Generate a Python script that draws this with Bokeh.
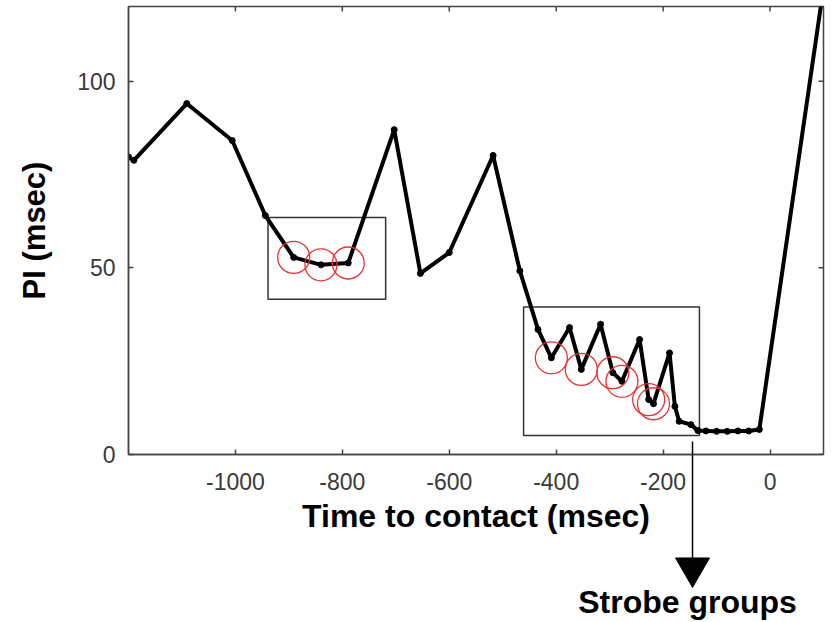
import math
from bokeh.plotting import figure
from bokeh.layouts import column
from bokeh.models import Range1d, FixedTicker
from bokeh.core.properties import value
from bokeh.embed import file_html
from bokeh.resources import INLINE

# ---- data ----
time_ms = [-1200, -1190, -1091, -1006, -944, -891, -840, -789, -703, -654, -600,
           -518, -468, -434, -409, -375, -353, -317, -294, -277, -244, -227, -218,
           -188, -178, -170, -148, -135, -120, -100, -80, -60, -40, -20, 100]
pi_ms = [79.7, 78.8, 94.0, 84.1, 64.0, 52.8, 50.8, 51.3, 87.0, 48.5, 54.1,
         80.1, 49.2, 33.5, 25.9, 34.0, 22.8, 34.9, 21.9, 19.6, 30.8, 14.7, 13.6,
         27.2, 12.9, 8.9, 8.0, 6.4, 6.3, 6.2, 6.2, 6.3, 6.3, 6.7, 125.0]

# strobe-group markers (red circles)
circle_t = [-891, -840, -789, -409, -353, -294, -277, -227, -218]
circle_pi = [52.8, 50.8, 51.3, 25.9, 22.8, 21.9, 19.6, 14.7, 13.6]

# highlighted boxes
box_left = [-939, -461]
box_right = [-719, -132]
box_bottom = [41.6, 5.1]
box_top = [63.5, 39.5]

# arrow to "Strobe groups"
arrow_t = -145
arrow_start = 3.5
arrow_end = -35.6
note_pi = -34.6
note_text = "Strobe groups"

x_min, x_max = -1200, 100
y_min, y_max = 0, 120
x_ticks = [-1000, -800, -600, -400, -200, 0]
x_tick_labels = ["-1000", "-800", "-600", "-400", "-200", "0"]
y_ticks = [0, 50, 100]
y_tick_labels = ["0", "50", "100"]

FONT = "Liberation Sans"
AX = "#444444"

W, H = 834, 622
BL, BR, BT, BB = 128, 11, 6, 168          # borders around the main frame (px)
frame_h = H - BT - BB
px_per_unit = frame_h / (y_max - y_min)

p = figure(width=W, height=H, output_backend="svg", toolbar_location=None,
           x_range=Range1d(x_min, x_max), y_range=Range1d(y_min, y_max),
           min_border_left=BL, min_border_right=BR, min_border_top=BT,
           min_border_bottom=BB, background_fill_color="white",
           border_fill_color="white")
p.grid.visible = False
p.outline_line_color = AX
p.outline_line_width = 1.5

p.xaxis.ticker = FixedTicker(ticks=x_ticks)
p.yaxis.ticker = FixedTicker(ticks=y_ticks)
p.xaxis.major_label_overrides = dict(zip(x_ticks, x_tick_labels))
p.yaxis.major_label_overrides = dict(zip(y_ticks, y_tick_labels))

for ax in (p.xaxis[0], p.yaxis[0]):
    ax.axis_line_color = AX
    ax.axis_line_width = 1.5
    ax.major_tick_line_color = AX
    ax.major_tick_line_width = 1.5
    ax.major_tick_in = 5
    ax.major_tick_out = 0
    ax.minor_tick_line_color = None
    ax.major_label_text_font = FONT
    ax.major_label_text_font_size = "23px"
    ax.major_label_text_color = "#3a3a3a"
    ax.axis_label_text_font = FONT
    ax.axis_label_text_font_style = "bold"
    ax.axis_label_text_color = "black"

p.xaxis.axis_label = "Time to contact (msec)"
p.xaxis.axis_label_text_font_size = "32px"
p.xaxis.major_label_standoff = 18
p.xaxis.axis_label_standoff = 5
p.yaxis.axis_label = "PI (msec)"
p.yaxis.axis_label_text_font_size = "31px"
p.yaxis.major_label_standoff = 13
p.yaxis.axis_label_standoff = 22

# mirrored inward ticks on top and right edges (half of each dash is clipped by the frame)
p.scatter(x_ticks, [y_max] * len(x_ticks), marker="dash", angle=math.pi / 2, size=10,
          line_color=AX, line_width=1.5)
p.scatter([x_max] * len(y_ticks), y_ticks, marker="dash", size=10,
          line_color=AX, line_width=1.5)

# boxes
p.quad(left=box_left, right=box_right, bottom=box_bottom, top=box_top,
       fill_color=None, line_color="#333333", line_width=1.5)

# main trace
p.line(time_ms, pi_ms, line_width=4, line_color="black", line_join="round")
p.scatter(time_ms, pi_ms, size=6, color="black")

# red circles
p.scatter(circle_t, circle_pi, marker="circle", size=32, fill_color=None,
          line_color="#e83232", line_width=1.3)

# ---- transparent overlay strip for the arrow + note (same x and y scales) ----
OV_H = 182
ov_top_px = H - OV_H                       # overlay top, in canvas px
ov_hi = (BT + frame_h - ov_top_px) / px_per_unit
ov_lo = -(H - BT - frame_h) / px_per_unit
p2 = figure(width=W, height=OV_H, output_backend="svg", toolbar_location=None,
            x_range=p.x_range, y_range=Range1d(ov_lo, ov_hi),
            x_axis_location=None, y_axis_location=None,
            min_border_left=BL, min_border_right=BR, min_border_top=0, min_border_bottom=0,
            background_fill_color=None, border_fill_color=None, outline_line_color=None,
            margin=(-OV_H, 0, 0, 0))
p2.grid.visible = False

head_size = 34
head_center = arrow_end + (head_size / 2 * math.sqrt(3) * 2 / 3) / px_per_unit
p2.segment(x0=[arrow_t], y0=[arrow_start], x1=[arrow_t], y1=[head_center],
           line_color="black", line_width=1.5)
p2.scatter([arrow_t], [head_center], marker="inverted_triangle", size=head_size,
           fill_color="black", line_color="black")
p2.text(x=[arrow_t], y=[note_pi], text=[note_text], text_align="center",
        text_baseline="top", x_offset=-5, text_font=value(FONT),
        text_font_style="bold", text_font_size="32px", text_color="black")

layout = column(p, p2, spacing=0)
open("out.html", "w").write(file_html(layout, INLINE))
